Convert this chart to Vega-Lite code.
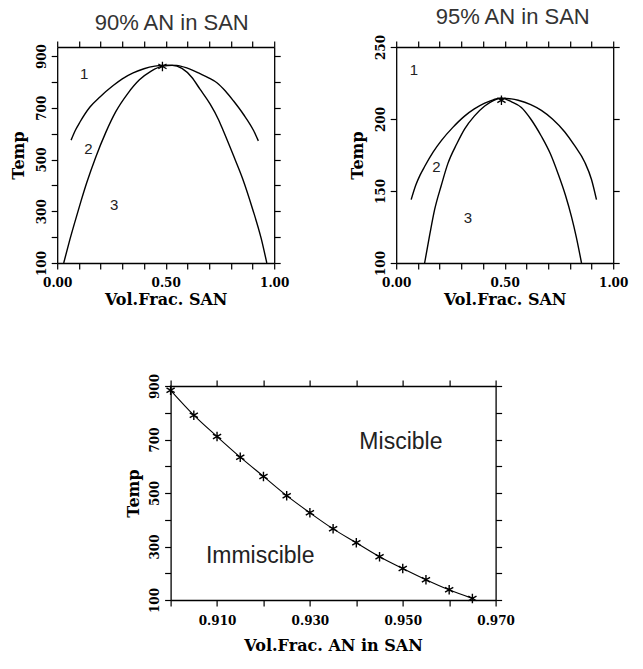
{
  "$schema": "https://vega.github.io/schema/vega-lite/v6.json",
  "background": "white",
  "padding": {"left": 10, "top": 6, "right": 5, "bottom": 5},
  "center": true,
  "spacing": 66,
  "vconcat": [
    {
      "hconcat": [
        {
          "width": 217,
          "height": 216,
          "title": {"text": "90% AN in SAN", "dx": 6},
          "layer": [
            {
              "data": {"values": [
                {"x": 0.064, "T": 575, "c": "b"}, {"x": 0.085, "T": 615, "c": "b"}, {"x": 0.105, "T": 645, "c": "b"},
                {"x": 0.151, "T": 703, "c": "b"}, {"x": 0.197, "T": 742, "c": "b"}, {"x": 0.258, "T": 786, "c": "b"},
                {"x": 0.30, "T": 812, "c": "b"}, {"x": 0.35, "T": 835, "c": "b"}, {"x": 0.40, "T": 851, "c": "b"},
                {"x": 0.45, "T": 861, "c": "b"}, {"x": 0.50, "T": 865, "c": "b"}, {"x": 0.55, "T": 864, "c": "b"},
                {"x": 0.60, "T": 853, "c": "b"}, {"x": 0.658, "T": 832, "c": "b"}, {"x": 0.70, "T": 815, "c": "b"},
                {"x": 0.736, "T": 797, "c": "b"}, {"x": 0.775, "T": 765, "c": "b"}, {"x": 0.812, "T": 727, "c": "b"},
                {"x": 0.858, "T": 675, "c": "b"}, {"x": 0.905, "T": 612, "c": "b"}, {"x": 0.927, "T": 572, "c": "b"},
                {"x": 0.03, "T": 100, "c": "s"}, {"x": 0.055, "T": 180, "c": "s"}, {"x": 0.082, "T": 260, "c": "s"},
                {"x": 0.11, "T": 340, "c": "s"}, {"x": 0.136, "T": 410, "c": "s"}, {"x": 0.178, "T": 510, "c": "s"},
                {"x": 0.224, "T": 605, "c": "s"}, {"x": 0.27, "T": 685, "c": "s"}, {"x": 0.325, "T": 755, "c": "s"},
                {"x": 0.379, "T": 808, "c": "s"}, {"x": 0.433, "T": 842, "c": "s"}, {"x": 0.487, "T": 861, "c": "s"},
                {"x": 0.53, "T": 864, "c": "s"}, {"x": 0.575, "T": 852, "c": "s"}, {"x": 0.62, "T": 818, "c": "s"},
                {"x": 0.658, "T": 772, "c": "s"}, {"x": 0.705, "T": 714, "c": "s"}, {"x": 0.743, "T": 655, "c": "s"},
                {"x": 0.766, "T": 610, "c": "s"}, {"x": 0.81, "T": 520, "c": "s"}, {"x": 0.855, "T": 425, "c": "s"},
                {"x": 0.90, "T": 310, "c": "s"}, {"x": 0.94, "T": 195, "c": "s"}, {"x": 0.966, "T": 100, "c": "s"}
              ]},
              "mark": {"type": "line", "interpolate": "monotone", "color": "black", "strokeWidth": 1.4},
              "encoding": {
                "x": {"field": "x", "type": "quantitative", "scale": {"domain": [0, 1], "nice": false, "zero": false},
                  "axis": {"orient": "bottom", "values": [0, 0.1, 0.2, 0.3, 0.4, 0.5, 0.6, 0.7, 0.8, 0.9, 1], "format": ".2f",
                    "labelExpr": "indexof([0, 0.5, 1], datum.value) >= 0 ? datum.label : ''", "title": "Vol.Frac. SAN"}},
                "y": {"field": "T", "type": "quantitative", "scale": {"domain": [100, 935], "nice": false, "zero": false},
                  "axis": {"orient": "left", "values": [100, 200, 300, 400, 500, 600, 700, 800, 900],
                    "labelExpr": "datum.value % 200 == 100 ? datum.label : ''", "title": "Temp"}},
                "detail": {"field": "c"}
              }
            },
            {
              "data": {"values": [{"x": 0.485, "T": 860}]},
              "mark": {"type": "point", "shape": "M0,-1L0,1M-0.866,-0.5L0.866,0.5M-0.866,0.5L0.866,-0.5", "filled": false, "color": "black", "strokeWidth": 1.3, "size": 90, "opacity": 1},
              "encoding": {
                "x": {"field": "x", "type": "quantitative", "axis": {"orient": "top", "values": [0, 0.1, 0.2, 0.3, 0.4, 0.5, 0.6, 0.7, 0.8, 0.9, 1], "labels": false, "title": null}},
                "y": {"field": "T", "type": "quantitative", "axis": {"orient": "right", "values": [100, 200, 300, 400, 500, 600, 700, 800, 900], "labels": false, "title": null}}
              }
            },
            {
              "data": {"values": [{"x": 0.124, "T": 829, "t": "1"}, {"x": 0.144, "T": 539, "t": "2"}, {"x": 0.263, "T": 326, "t": "3"}]},
              "mark": {"type": "text", "font": "Liberation Sans", "fontSize": 15, "color": "#222"},
              "encoding": {
                "x": {"field": "x", "type": "quantitative", "axis": null},
                "y": {"field": "T", "type": "quantitative", "axis": null},
                "text": {"field": "t"}
              }
            }
          ],
          "resolve": {"axis": {"x": "independent", "y": "independent"}}
        },
        {
          "width": 217,
          "height": 216,
          "title": {"text": "95% AN in SAN", "dx": 8},
          "layer": [
            {
              "data": {"values": [
                {"x": 0.069, "T": 144, "c": "b"}, {"x": 0.09, "T": 154, "c": "b"}, {"x": 0.11, "T": 161, "c": "b"},
                {"x": 0.131, "T": 167, "c": "b"}, {"x": 0.17, "T": 177, "c": "b"}, {"x": 0.208, "T": 185, "c": "b"},
                {"x": 0.26, "T": 194, "c": "b"}, {"x": 0.315, "T": 202, "c": "b"}, {"x": 0.36, "T": 207, "c": "b"},
                {"x": 0.408, "T": 211, "c": "b"}, {"x": 0.45, "T": 213.5, "c": "b"}, {"x": 0.485, "T": 214.5, "c": "b"},
                {"x": 0.53, "T": 214, "c": "b"}, {"x": 0.562, "T": 213, "c": "b"}, {"x": 0.62, "T": 210, "c": "b"},
                {"x": 0.669, "T": 206, "c": "b"}, {"x": 0.72, "T": 200, "c": "b"}, {"x": 0.777, "T": 191, "c": "b"},
                {"x": 0.82, "T": 182, "c": "b"}, {"x": 0.869, "T": 170, "c": "b"}, {"x": 0.90, "T": 158, "c": "b"},
                {"x": 0.923, "T": 144, "c": "b"},
                {"x": 0.131, "T": 100, "c": "s"}, {"x": 0.155, "T": 120, "c": "s"}, {"x": 0.177, "T": 137, "c": "s"},
                {"x": 0.208, "T": 154, "c": "s"}, {"x": 0.238, "T": 169, "c": "s"}, {"x": 0.28, "T": 183, "c": "s"},
                {"x": 0.315, "T": 193, "c": "s"}, {"x": 0.36, "T": 202, "c": "s"}, {"x": 0.408, "T": 209, "c": "s"},
                {"x": 0.45, "T": 213, "c": "s"}, {"x": 0.485, "T": 214.5, "c": "s"}, {"x": 0.53, "T": 212, "c": "s"},
                {"x": 0.577, "T": 208, "c": "s"}, {"x": 0.62, "T": 200, "c": "s"}, {"x": 0.669, "T": 188, "c": "s"},
                {"x": 0.71, "T": 176, "c": "s"}, {"x": 0.746, "T": 162, "c": "s"}, {"x": 0.78, "T": 147, "c": "s"},
                {"x": 0.808, "T": 132, "c": "s"}, {"x": 0.83, "T": 118, "c": "s"}, {"x": 0.854, "T": 100, "c": "s"}
              ]},
              "mark": {"type": "line", "interpolate": "monotone", "color": "black", "strokeWidth": 1.4},
              "encoding": {
                "x": {"field": "x", "type": "quantitative", "scale": {"domain": [0, 1], "nice": false, "zero": false},
                  "axis": {"orient": "bottom", "values": [0, 0.1, 0.2, 0.3, 0.4, 0.5, 0.6, 0.7, 0.8, 0.9, 1], "format": ".2f",
                    "labelExpr": "indexof([0, 0.5, 1], datum.value) >= 0 ? datum.label : ''", "title": "Vol.Frac. SAN"}},
                "y": {"field": "T", "type": "quantitative", "scale": {"domain": [100, 250], "nice": false, "zero": false},
                  "axis": {"orient": "left", "values": [100, 150, 200, 250], "title": "Temp"}},
                "detail": {"field": "c"}
              }
            },
            {
              "data": {"values": [{"x": 0.485, "T": 213}]},
              "mark": {"type": "point", "shape": "M0,-1L0,1M-0.866,-0.5L0.866,0.5M-0.866,0.5L0.866,-0.5", "filled": false, "color": "black", "strokeWidth": 1.3, "size": 90, "opacity": 1},
              "encoding": {
                "x": {"field": "x", "type": "quantitative", "axis": {"orient": "top", "values": [0, 0.1, 0.2, 0.3, 0.4, 0.5, 0.6, 0.7, 0.8, 0.9, 1], "labels": false, "title": null}},
                "y": {"field": "T", "type": "quantitative", "axis": {"orient": "right", "values": [100, 150, 200, 250], "labels": false, "title": null}}
              }
            },
            {
              "data": {"values": [{"x": 0.082, "T": 234, "t": "1"}, {"x": 0.185, "T": 167, "t": "2"}, {"x": 0.331, "T": 131, "t": "3"}]},
              "mark": {"type": "text", "font": "Liberation Sans", "fontSize": 15, "color": "#222"},
              "encoding": {
                "x": {"field": "x", "type": "quantitative", "axis": null},
                "y": {"field": "T", "type": "quantitative", "axis": null},
                "text": {"field": "t"}
              }
            }
          ],
          "resolve": {"axis": {"x": "independent", "y": "independent"}}
        }
      ],
      "spacing": 60
    },
    {
      "width": 325,
      "height": 214,
      "layer": [
        {
          "data": {"values": [
            {"x": 0.900, "T": 884}, {"x": 0.905, "T": 791}, {"x": 0.910, "T": 711}, {"x": 0.915, "T": 634},
            {"x": 0.920, "T": 562}, {"x": 0.925, "T": 490}, {"x": 0.930, "T": 426}, {"x": 0.935, "T": 366},
            {"x": 0.940, "T": 314}, {"x": 0.945, "T": 262}, {"x": 0.950, "T": 218}, {"x": 0.955, "T": 176},
            {"x": 0.960, "T": 138}, {"x": 0.965, "T": 106}
          ]},
          "layer": [
            {
              "mark": {"type": "line", "interpolate": "monotone", "color": "black", "strokeWidth": 1.1},
              "encoding": {
                "x": {"field": "x", "type": "quantitative", "scale": {"domain": [0.9, 0.97], "nice": false, "zero": false},
                  "axis": {"orient": "bottom", "values": [0.9, 0.91, 0.92, 0.93, 0.94, 0.95, 0.96, 0.97], "format": ".3f",
                    "labelExpr": "indexof(['0.910', '0.930', '0.950', '0.970'], datum.label) >= 0 ? datum.label : ''",
                    "title": "Vol.Frac. AN in SAN", "labelPadding": 9, "titlePadding": 11}},
                "y": {"field": "T", "type": "quantitative", "scale": {"domain": [100, 900], "nice": false, "zero": false},
                  "axis": {"orient": "left", "values": [100, 200, 300, 400, 500, 600, 700, 800, 900],
                    "labelExpr": "datum.value % 200 == 100 ? datum.label : ''", "title": "Temp", "titlePadding": 7}}
              }
            },
            {
              "mark": {"type": "point", "shape": "M0,-1L0,1M-0.866,-0.5L0.866,0.5M-0.866,0.5L0.866,-0.5", "filled": false, "color": "black", "strokeWidth": 1.4, "size": 90, "opacity": 1},
              "encoding": {
                "x": {"field": "x", "type": "quantitative", "axis": {"orient": "top", "values": [0.9, 0.91, 0.92, 0.93, 0.94, 0.95, 0.96, 0.97], "labels": false, "title": null}},
                "y": {"field": "T", "type": "quantitative", "axis": {"orient": "right", "values": [100, 200, 300, 400, 500, 600, 700, 800, 900], "labels": false, "title": null}}
              }
            }
          ],
          "resolve": {"axis": {"x": "independent", "y": "independent"}}
        },
        {
          "data": {"values": [{"x": 0.9496, "T": 692, "t": "Miscible"}, {"x": 0.9193, "T": 265, "t": "Immiscible"}]},
          "mark": {"type": "text", "font": "Liberation Sans", "fontSize": 23, "color": "#222"},
          "encoding": {
            "x": {"field": "x", "type": "quantitative", "axis": null},
            "y": {"field": "T", "type": "quantitative", "axis": null},
            "text": {"field": "t"}
          }
        }
      ],
      "resolve": {"axis": {"x": "independent", "y": "independent"}}
    }
  ],
  "config": {
    "view": {"stroke": null},
    "axis": {
      "domainColor": "black", "domainWidth": 1.3, "tickColor": "black", "tickWidth": 1.2, "tickSize": 6,
      "grid": false, "labelFont": "DejaVu Serif", "labelFontWeight": "bold", "labelFontSize": 12, "labelColor": "black",
      "titleFont": "DejaVu Serif", "titleFontWeight": "bold", "titleFontSize": 16, "titleColor": "black",
      "labelFlush": false, "labelOverlap": false
    },
    "axisLeft": {"labelAngle": 270, "labelAlign": "center", "labelBaseline": "alphabetic", "labelPadding": 6, "titlePadding": 9},
    "axisBottom": {"labelPadding": 8, "titlePadding": 3},
    "title": {"font": "Liberation Sans", "fontSize": 22, "fontWeight": "normal", "color": "#333", "frame": "group", "offset": 5}
  }
}
